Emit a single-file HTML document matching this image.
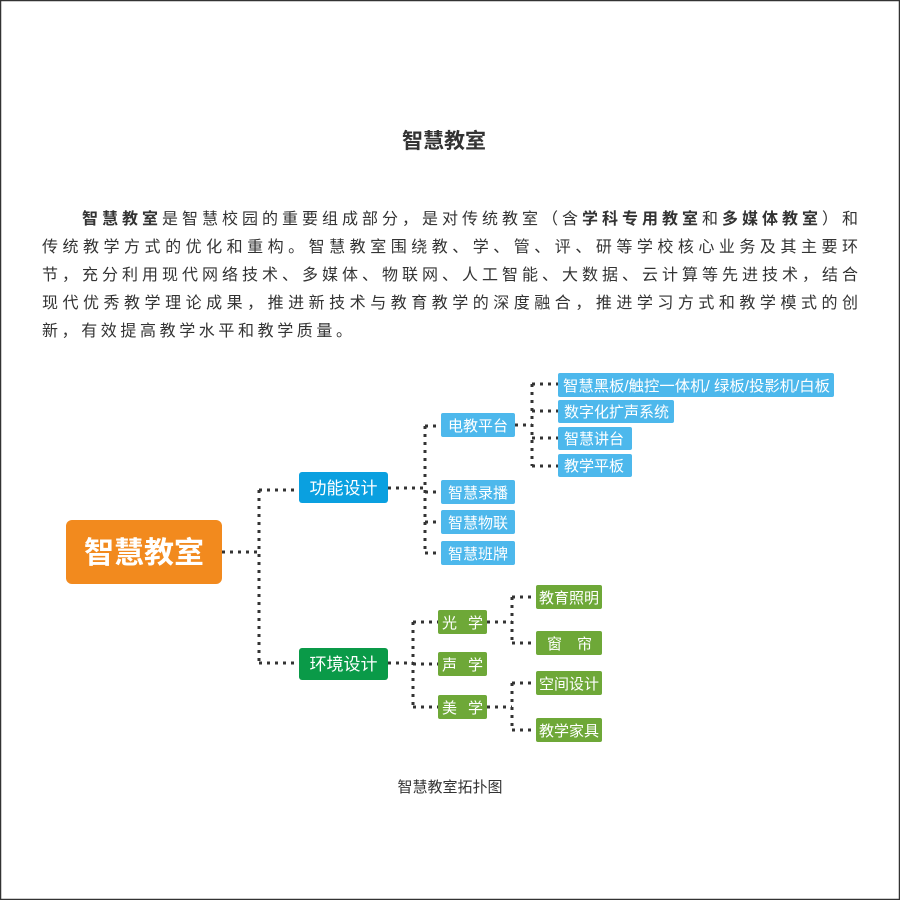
<!DOCTYPE html>
<html><head><meta charset="utf-8"><style>
html,body{margin:0;padding:0;background:#fff}
svg{display:block}
text{font-family:"Liberation Sans","Noto Sans CJK SC",sans-serif}
</style></head><body>
<svg width="900" height="900" viewBox="0 0 900 900" xmlns="http://www.w3.org/2000/svg">
<rect x="0.5" y="0.5" width="899" height="899" fill="#fff" stroke="#333" stroke-width="1.5"/>
<text x="444" y="148" font-size="21" font-weight="bold" fill="#333" text-anchor="middle">智慧教室</text>
<g font-size="16" fill="#333">
<text x="82" y="224" textLength="776" lengthAdjust="spacing"><tspan font-weight="bold">智慧教室</tspan>是智慧校园的重要组成部分，是对传统教室（含<tspan font-weight="bold">学科专用教室</tspan>和<tspan font-weight="bold">多媒体教室</tspan>）和</text>
<text x="42" y="252" textLength="816" lengthAdjust="spacing">传统教学方式的优化和重构。智慧教室围绕教、学、管、评、研等学校核心业务及其主要环</text>
<text x="42" y="280" textLength="816" lengthAdjust="spacing">节，充分利用现代网络技术、多媒体、物联网、人工智能、大数据、云计算等先进技术，结合</text>
<text x="42" y="308" textLength="816" lengthAdjust="spacing">现代优秀教学理论成果，推进新技术与教育教学的深度融合，推进学习方式和教学模式的创</text>
<text x="42" y="336" textLength="310" lengthAdjust="spacing">新，有效提高教学水平和教学质量。</text>
</g>
<g stroke="#333" stroke-width="3" fill="none" stroke-dasharray="3 5">
<path d="M222 552H259M259 490V663M259 490H299M259 663H299"/>
<path d="M388 488H425M425 426V553M425 426H441M425 492H441M425 522H441M425 553H441"/>
<path d="M515 425H532M532 384V466M532 384H558M532 411H558M532 438H558M532 466H558"/>
<path d="M388 663H413M413 622V707M413 622H438M413 664H438M413 707H438"/>
<path d="M487 622H512M512 597V643M512 597H536M512 643H536"/>
<path d="M487 707H512M512 683V730M512 683H536M512 730H536"/>
</g>
<rect x="66" y="520" width="156" height="64" rx="6" fill="#F28A1E"/>
<text x="144" y="563" font-size="30" font-weight="bold" fill="#fff" text-anchor="middle">智慧教室</text>
<rect x="299" y="472" width="89" height="31" rx="3" fill="#0AA0E0"/>
<text x="343.5" y="494" font-size="17" fill="#fff" text-anchor="middle">功能设计</text>
<rect x="299" y="648" width="89" height="32" rx="3" fill="#0A9A48"/>
<text x="343.5" y="670" font-size="17" fill="#fff" text-anchor="middle">环境设计</text>
<g fill="#4DB8EC">
<rect x="441" y="413" width="74" height="24" rx="2"/>
<rect x="441" y="480" width="74" height="24" rx="2"/>
<rect x="441" y="510" width="74" height="24" rx="2"/>
<rect x="441" y="541" width="74" height="24" rx="2"/>
<rect x="558" y="373" width="276" height="24" rx="2"/>
<rect x="558" y="400" width="116" height="23" rx="2"/>
<rect x="558" y="427" width="74" height="23" rx="2"/>
<rect x="558" y="454" width="74" height="23" rx="2"/>
</g>
<g font-size="15" fill="#fff">
<text x="478" y="431" text-anchor="middle">电教平台</text>
<text x="478" y="498" text-anchor="middle">智慧录播</text>
<text x="478" y="528" text-anchor="middle">智慧物联</text>
<text x="478" y="559" text-anchor="middle">智慧班牌</text>
<text x="563" y="391" textLength="267" lengthAdjust="spacingAndGlyphs">智慧黑板/触控一体机/ 绿板/投影机/白板</text>
<text x="564" y="417">数字化扩声系统</text>
<text x="564" y="444">智慧讲台</text>
<text x="564" y="471">教学平板</text>
</g>
<g fill="#6EA838">
<rect x="438" y="610" width="49" height="24" rx="2"/>
<rect x="438" y="652" width="49" height="24" rx="2"/>
<rect x="438" y="695" width="49" height="24" rx="2"/>
<rect x="536" y="585" width="66" height="24" rx="2"/>
<rect x="536" y="631" width="66" height="24" rx="2"/>
<rect x="536" y="671" width="66" height="24" rx="2"/>
<rect x="536" y="718" width="66" height="24" rx="2"/>
</g>
<g font-size="15" fill="#fff">
<text x="442" y="628">光</text><text x="468" y="628">学</text>
<text x="442" y="670">声</text><text x="468" y="670">学</text>
<text x="442" y="713">美</text><text x="468" y="713">学</text>
<text x="539" y="603">教育照明</text>
<text x="547" y="649">窗</text><text x="577" y="649">帘</text>
<text x="539" y="689">空间设计</text>
<text x="539" y="736">教学家具</text>
</g>
<text x="450" y="792" font-size="15" fill="#333" text-anchor="middle">智慧教室拓扑图</text>
</svg>
</body></html>
